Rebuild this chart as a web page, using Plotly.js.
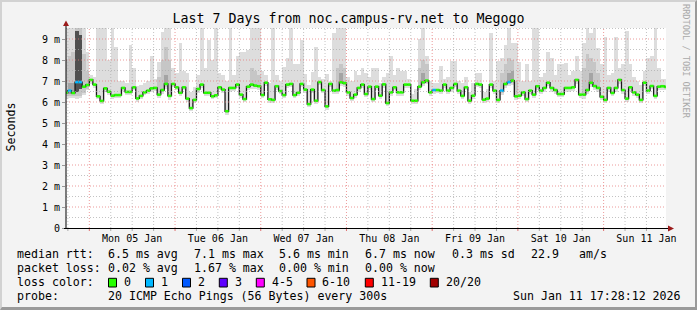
<!DOCTYPE html>
<html><head><meta charset="utf-8">
<script src="https://cdn.plot.ly/plotly-3.0.1.min.js"></script>
<style>
html,body{margin:0;padding:0;background:#f3f3f3;}
#wrap{position:relative;width:697px;height:310px;overflow:hidden;}
#chart{position:absolute;left:0;top:0;width:697px;height:310px;}
#frame{position:absolute;left:0;top:0;width:697px;height:310px;box-sizing:border-box;border-top:2px solid #d2d2d2;border-left:2px solid #d2d2d2;border-right:2px solid #9a9a9a;border-bottom:3px solid #9a9a9a;pointer-events:none;}
</style></head>
<body><div id="wrap"><div id="chart"></div><div id="frame"></div></div>
<script>
// ---------------- data (hourly steps starting 2026-01-04 17:00 UTC) ----------------
const firstStep = '2026-01-04T17:00:00Z';
const medianMs = [6.45,6.54,6.43,6.95,6.95,6.73,6.81,7.05,6.83,6.27,
6.05,6.65,6.49,6.30,6.33,6.33,6.67,6.48,6.48,6.70,
6.17,6.29,6.46,6.54,6.65,6.67,6.35,6.57,6.86,6.29,
6.86,6.70,6.44,6.70,6.16,5.71,6.10,6.62,6.83,6.44,
6.44,6.27,6.32,6.70,6.59,5.56,6.67,6.67,6.83,6.35,
6.14,6.73,6.83,6.78,6.75,6.33,6.92,6.13,6.10,6.75,
6.52,6.33,6.83,6.86,6.33,6.44,6.86,6.59,5.90,6.59,
6.06,6.95,6.57,5.79,6.86,6.54,6.57,6.94,6.90,6.46,
6.19,6.35,6.67,6.83,6.38,6.73,6.14,6.73,6.30,6.84,
5.95,6.46,6.70,6.46,6.46,6.83,6.83,6.06,6.06,6.73,
6.94,7.02,6.46,6.57,6.57,6.54,6.83,6.54,6.67,6.86,
6.54,6.29,6.70,6.06,6.30,6.86,6.83,6.11,6.16,6.83,
6.54,6.10,6.54,6.86,6.95,7.02,6.27,6.30,6.46,6.14,
6.54,6.35,6.75,6.54,6.67,6.92,6.67,6.57,6.38,6.38,
6.67,6.67,6.70,7.05,6.35,6.35,6.57,6.92,6.76,6.67,
6.25,6.10,6.67,6.43,6.67,7.05,6.57,6.16,6.70,6.46,
6.35,6.10,6.92,6.54,6.76,6.29,6.73,6.75,6.72];
const lostPings = [0,1,0,1,1,0,0,0,0,0, 0,0,0,0,0,0,0,0,0,0,
0,0,0,0,0,0,0,0,0,0, 0,0,0,0,0,0,0,0,0,0,
0,0,0,0,0,0,0,0,0,0, 0,0,0,0,0,0,0,0,0,0,
0,0,0,0,0,0,0,0,0,0, 0,0,0,0,0,0,0,0,0,0,
0,0,0,0,0,0,0,0,0,0, 0,0,0,0,0,0,0,0,0,0,
0,0,0,1,0,0,0,0,0,0, 0,0,0,0,0,0,0,0,0,0,
0,0,1,0,1,0,0,0,0,0, 0,0,0,0,0,0,0,0,0,0,
0,0,0,0,0,0,0,0,0,0, 0,0,0,0,0,0,0,0,0,0,
0,0,0,0,0,0,0,0,0];
const smokeLo = [6.15,6.2,6.2,6.15,6.2,6.35,6.55,6.85,6.65,6.12,
5.9,6.5,6.35,6.15,6.18,6.2,6.52,6.33,6.33,6.55,
6.02,6.14,6.31,6.4,6.5,6.52,6.2,6.4,6.6,6.1,
6.7,6.55,6.3,6.55,6.0,5.55,5.95,6.45,6.65,6.28,
6.3,6.12,6.17,6.55,6.44,5.4,6.5,6.52,6.66,6.2,
5.98,6.57,6.63,6.6,6.58,6.17,6.76,5.97,5.95,6.58,
6.36,6.17,6.67,6.7,6.17,6.3,6.7,6.43,5.75,6.43,
5.9,6.8,6.42,5.63,6.7,6.38,6.4,6.75,6.72,6.3,
6.03,6.2,6.5,6.67,6.22,6.57,5.98,6.58,6.14,6.68,
5.8,6.3,6.55,6.3,6.3,6.66,6.67,5.9,5.9,6.55,
6.76,6.85,6.3,6.4,6.42,6.38,6.67,6.38,6.5,6.7,
6.38,6.13,6.55,5.9,6.14,6.7,6.67,5.95,6.0,6.66,
6.38,5.94,6.35,6.66,6.75,6.83,6.1,6.14,6.3,5.98,
6.38,6.18,6.58,6.38,6.5,6.76,6.5,6.4,6.22,6.22,
6.5,6.5,6.53,6.85,6.18,6.15,6.4,6.72,6.58,6.5,
6.08,5.94,6.5,6.27,6.5,6.88,6.4,6.0,6.53,6.3,
6.18,5.94,6.75,6.38,6.6,6.12,6.57,6.58,6.56];
const smokeHi = [10,10,10,10,10,10,8.4,7.3,7.2,10,
10,10,8.0,10,8.6,7.0,7.0,6.9,8.7,7.6,
6.75,6.8,6.9,7.0,8.2,7.1,7.9,9.35,10,10,
7.6,7.4,8.8,7.5,7.4,6.5,6.7,7.3,10,7.6,
8.95,8.0,10,7.4,7.3,7.0,10,7.3,8.2,8.4,
8.4,8.5,10,10,10,7.5,7.3,6.9,10,7.3,
7.0,7.65,8.1,10,7.8,7.8,8.95,7.35,6.8,7.45,
8.6,7.2,7.1,7.35,7.0,9.3,10,10,10,7.2,
7.0,7.5,7.3,7.6,7.4,7.2,7.6,7.6,6.9,7.2,
7.4,8.2,7.3,7.6,7.5,7.5,7.1,6.4,6.6,9.0,
10,8.2,7.0,6.9,6.9,7.7,7.1,7.2,7.95,7.95,
7.0,6.9,7.2,6.5,6.9,7.4,7.4,6.5,6.6,9.3,
7.0,7.95,8.1,8.7,10,8.8,8.8,7.9,7.0,7.8,
7.0,10,10,7.2,7.4,8.4,8.1,7.3,7.8,7.8,
7.85,7.3,7.5,8.2,7.5,8.8,10,9.3,10,8.55,
7.8,9.1,7.3,7.4,9.1,7.6,7.8,9.4,7.8,7.2,
7.0,6.8,7.5,8.1,8.2,10,7.6,7.1,7.1];
// denser smoke (many pings clustered)
const midStep = [0,1,2,3,4,5,6,26,27,28,29,52,53,54,76,77,78,99,100,101,122,123,124,125,126,145,146,147,148,149];
const midLo   = [6.3,6.3,6.3,6.3,6.3,6.45,6.6,6.35,6.5,6.7,6.35,6.75,6.7,6.7,6.5,6.85,6.8,6.65,6.85,6.9,6.45,6.75,6.85,6.9,6.3,6.3,6.5,6.8,6.7,6.6];
const midHi   = [8.0,8.2,8.4,10,10,8.3,7.5,7.2,8.0,8.6,8.0,7.6,7.5,7.3,7.6,7.8,7.6,7.6,8.0,7.8,7.4,7.8,8.1,8.0,7.0,7.6,8.3,8.1,7.9,7.4];
const denseStep = [1,2,28,77,100,124,125,147];
const denseLo   = [6.4,6.4,6.85,7.0,7.0,6.95,7.05,6.95];
const denseHi   = [6.9,6.9,7.3,7.4,7.4,7.4,7.5,7.4];
const coreStep = [3,4];
const coreLo   = [6.5,6.6];
const coreHi   = [9.4,9.2];

const dayLabels = ['Mon 05 Jan','Tue 06 Jan','Wed 07 Jan','Thu 08 Jan','Fri 09 Jan','Sat 10 Jan','Sun 11 Jan'];
const yTickVals = [0,1,2,3,4,5,6,7,8,9];
const yTickText = ['0','1 m','2 m','3 m','4 m','5 m','6 m','7 m','8 m','9 m'];
const lossLabels = ['0','1','2','3','4-5','6-10','11-19','20/20'];
const lossColors = ['#26ff00','#00b8ff','#0059ff','#5e00ff','#ff00ff','#ff5500','#ff0000','#a10000'];
const statsRtt  = ['6.5 ms avg','7.1 ms max','5.6 ms min','6.7 ms now','0.3 ms sd','22.9','am/s'];
const statsLoss = ['0.02 % avg','1.67 % max','0.00 % min','0.00 % now'];
const probeText = '20 ICMP Echo Pings (56 Bytes) every 300s';
const stampText = 'Sun Jan 11 17:28:12 2026';
const titleText = 'Last 7 Days from noc.campus-rv.net to Megogo';

// ---------------- layout helpers ----------------
const FONT = 'DejaVu Sans Mono';
const PL = 66, PT = 28, PW = 600, PH = 200;
const px2x = px => (px - PL) / PW;
const py2y = py => (PT + PH - py) / PH;
const HOUR = 3600000;
const t0 = Date.parse(firstStep);
const iso = ms => new Date(ms).toISOString().replace('T',' ').slice(0,19);
const rangeEnd = Date.UTC(2026,0,11,17,28,12);
const rangeStart = rangeEnd - 7*24*HOUR;

function band(steps, lo, hi, color){
  return {type:'bar', x: steps.map(i => iso(t0 + (i+0.5)*HOUR)), base: lo,
    y: hi.map((h,k) => h - lo[k]), width: HOUR, marker:{color: color, line:{width:0}},
    hoverinfo:'skip', showlegend:false};
}
const allSteps = medianMs.map((_, i) => i);
const traces = [
  band(allSteps, smokeLo, smokeHi, '#dddddd'),
  band(midStep, midLo, midHi, '#c6c6c6'),
  band(denseStep, denseLo, denseHi, '#a4a4a4'),
  band(coreStep, coreLo, coreHi, '#505050')
];
// median step line
const lx = [], ly = [];
medianMs.forEach((m, i) => { lx.push(iso(t0 + i*HOUR)); ly.push(m); });
lx.push(iso(t0 + medianMs.length*HOUR)); ly.push(medianMs[medianMs.length-1]);
traces.push({type:'scatter', mode:'lines', x: lx, y: ly, line:{shape:'hv', color:'#1a1a1a', width:1.3}, hoverinfo:'skip', showlegend:false});
// loss coloured median segments
function lossClass(n){ if(n<=3) return n; if(n<=5) return 4; if(n<=10) return 5; if(n<20) return 6; return 7; }
lossColors.forEach((c, cls) => {
  const sx = [], sy = [];
  medianMs.forEach((m, i) => {
    if (lossClass(lostPings[i]) === cls) { sx.push(iso(t0+i*HOUR), iso(t0+(i+1)*HOUR), null); sy.push(m, m, null); }
  });
  if (sx.length) traces.push({type:'scatter', mode:'lines', x: sx, y: sy, line:{color:c, width:2.6}, hoverinfo:'skip', showlegend:false});
});

// ---------------- grid, axes decorations ----------------
const shapes = [];
const MAJ = 'rgba(230,120,120,0.75)', MIN = 'rgba(170,170,170,0.7)';
for (let t = Date.UTC(2026,0,4,18); t < rangeEnd; t += 6*HOUR) {
  const major = new Date(t).getUTCHours() === 0;
  shapes.push({type:'line', xref:'x', yref:'paper', x0: iso(t), x1: iso(t), y0: 0, y1: 1, layer:'above',
    line:{color: major ? MAJ : MIN, width:1, dash:'1px,2px'}});
  shapes.push({type:'line', xref:'x', yref:'paper', x0: iso(t), x1: iso(t), y0: 0, y1: -3/PH, layer:'above',
    line:{color: major ? '#e07070' : '#aaaaaa', width:1}});
}
for (let v = 0.5; v < 9.6; v += 0.5) {
  const major = Math.abs(v - Math.round(v)) < 1e-6;
  shapes.push({type:'line', xref:'paper', yref:'y', x0: 0, x1: 1, y0: v, y1: v, layer:'above',
    line:{color: major ? MAJ : MIN, width:1, dash:'1px,2px'}});
}
// axis lines + arrows
shapes.push({type:'line', xref:'paper', yref:'paper', x0: px2x(66), x1: px2x(66), y0: py2y(229), y1: py2y(25), layer:'above', line:{color:'#000', width:1}});
shapes.push({type:'line', xref:'paper', yref:'paper', x0: px2x(64), x1: px2x(669), y0: py2y(228.5), y1: py2y(228.5), layer:'above', line:{color:'#000', width:1}});
shapes.push({type:'path', xref:'paper', yref:'paper', layer:'above', fillcolor:'#9b1b1b', line:{width:0},
  path:`M${px2x(66)},${py2y(20.5)} L${px2x(63)},${py2y(26)} L${px2x(69)},${py2y(26)} Z`});
shapes.push({type:'path', xref:'paper', yref:'paper', layer:'above', fillcolor:'#9b1b1b', line:{width:0},
  path:`M${px2x(674)},${py2y(228.5)} L${px2x(668)},${py2y(225.5)} L${px2x(668)},${py2y(231.5)} Z`});

// ---------------- legend / footer ----------------
const annotations = [];
function txt(px, py, s, opt){
  opt = opt || {};
  annotations.push({xref:'paper', yref:'paper', x: px2x(px), y: py2y(py), text: s, showarrow:false,
    xanchor: opt.xanchor || 'left', yanchor:'middle', textangle: opt.angle || 0,
    font:{family:FONT, size: opt.size || 11.6, color: opt.color || '#000'}, borderpad:0});
}
const rowY = [254.3, 268.3, 282.3, 296.2];
const colX = [106.5, 192.8, 278.2, 364.2, 450.5, 529.5, 578.2];
txt(15.5, rowY[0], 'median rtt:');
statsRtt.forEach((s,k) => txt(colX[k], rowY[0], s));
txt(15.5, rowY[1], 'packet loss:');
statsLoss.forEach((s,k) => txt(colX[k], rowY[1], s));
txt(15.5, rowY[2], 'loss color:');
const boxX = [108.5, 145.5, 182.5, 219.3, 256.3, 307, 365.3, 430.3];
lossLabels.forEach((s,k) => {
  shapes.push({type:'rect', xref:'paper', yref:'paper', x0: px2x(boxX[k]), x1: px2x(boxX[k]+8), y0: py2y(278.3), y1: py2y(287), layer:'above',
    fillcolor: lossColors[k], line:{color:'#000', width:1}});
  txt(boxX[k] + 14.3, rowY[2], s);
});
txt(15.5, rowY[3], 'probe:');
txt(106.5, rowY[3], probeText);
txt(682, rowY[3], stampText, {xanchor:'right'});
txt(10, 127.5, 'Seconds', {angle:-90, xanchor:'center'});
txt(686, 61, 'RRDTOOL / TOBI OETIKER', {angle:90, xanchor:'center', size:8.6, color:'#a9a9a9'});

const layout = {
  width: 697, height: 310,
  margin: {l: PL, r: 697-PL-PW, t: PT, b: 310-PT-PH, pad: 0},
  paper_bgcolor: '#f3f3f3', plot_bgcolor: '#ffffff',
  barmode: 'overlay', bargap: 0, showlegend: false,
  title: {text: titleText, x: 0.5, xref:'container', xanchor:'center', y: 1 - 18/310, yref:'container', yanchor:'middle',
    font:{family: FONT, size: 13.3, color:'#000'}},
  xaxis: {type:'date', range:[iso(rangeStart), iso(rangeEnd)], tickmode:'array',
    tickvals: dayLabels.map((_,k) => iso(Date.UTC(2026,0,5+k,12))), ticktext: dayLabels,
    ticks:'', showgrid:false, zeroline:false, showline:false, ticklabelstandoff: 3,
    tickfont:{family:FONT, size:10, color:'#000'}, fixedrange:true},
  yaxis: {range:[0, PH/21], tickmode:'array', tickvals: yTickVals, ticktext: yTickText,
    ticks:'outside', ticklen:3, tickcolor:'#999', showgrid:false, zeroline:false, showline:false,
    tickfont:{family:FONT, size:10, color:'#000'}, fixedrange:true},
  shapes: shapes, annotations: annotations
};
Plotly.newPlot('chart', traces, layout, {displayModeBar:false, staticPlot:true});
</script></body></html>
